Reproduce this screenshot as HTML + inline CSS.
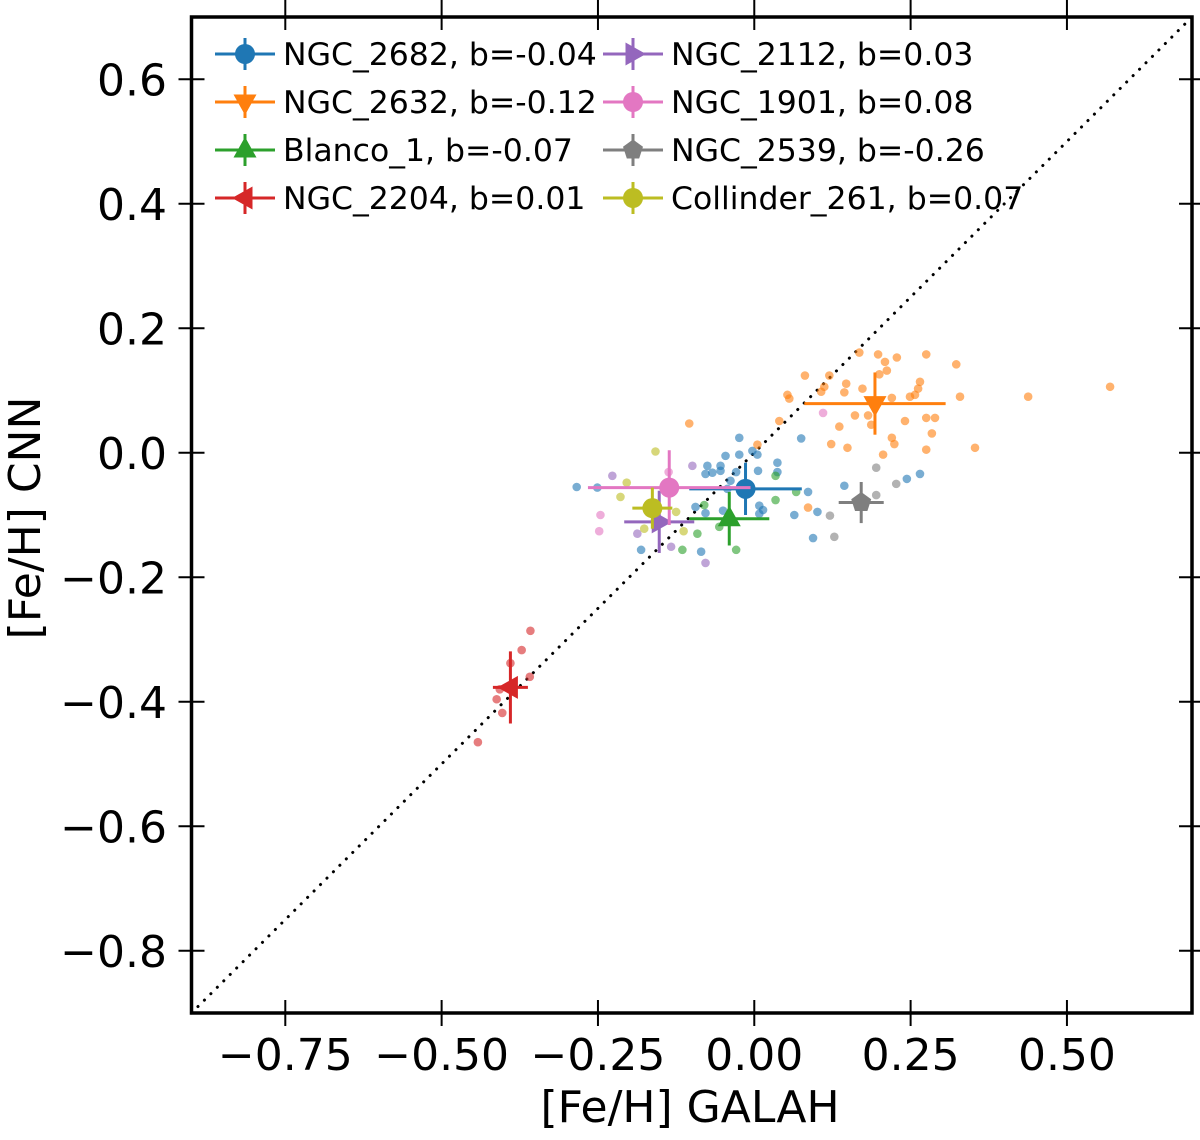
<!DOCTYPE html>
<html><head><meta charset="utf-8"><style>
body{margin:0;background:#fff;}
svg text{font-family:"DejaVu Sans","Liberation Sans",sans-serif;}
</style></head><body>
<svg id="chart" width="1200" height="1135" viewBox="0 0 1200 1135" xmlns="http://www.w3.org/2000/svg">
<rect width="1200" height="1135" fill="#fff"/>
<g id="plot"></g>
</svg>
<script>
const xTicks=[-0.75,-0.5,-0.25,0,0.25,0.5];
const xTickLabels=["−0.75","−0.50","−0.25","0.00","0.25","0.50"];
const yTicks=[0.6,0.4,0.2,0,-0.2,-0.4,-0.6,-0.8];
const yTickLabels=["0.6","0.4","0.2","0.0","−0.2","−0.4","−0.6","−0.8"];
const clusterNames=["NGC_2682, b=-0.04","NGC_2632, b=-0.12","Blanco_1, b=-0.07","NGC_2204, b=0.01","NGC_2112, b=0.03","NGC_1901, b=0.08","NGC_2539, b=-0.26","Collinder_261, b=0.07"];
const colors=["#1f77b4","#ff7f0e","#2ca02c","#d62728","#9467bd","#e377c2","#7f7f7f","#bcbd22"];
const markers=["circle","tdown","tup","tleft","tright","circle","pent","circle"];
const meanX=[-0.014,0.193,-0.04,-0.39,-0.152,-0.136,0.171,-0.163];
const meanY=[-0.058,0.079,-0.106,-0.377,-0.111,-0.056,-0.08,-0.089];
const errX=[0.09,0.113,0.064,0.028,0.056,0.13,0.036,0.032];
const errY=[0.042,0.05,0.043,0.058,0.05,0.06,0.033,0.033];
const ptsX=[
[-0.284,-0.251,-0.024,-0.046,-0.024,-0.003,0.005,-0.075,-0.054,-0.078,-0.067,-0.054,-0.038,-0.029,0.006,0.037,0.037,0.075,-0.094,-0.078,-0.05,0.008,0.014,0.008,0.064,0.101,0.144,0.094,-0.181,-0.085,-0.043,0.086,0.244,0.265],
[0.168,0.198,0.209,0.228,0.275,0.323,0.081,0.12,0.212,0.2,0.147,0.173,0.112,0.107,0.053,0.056,0.144,0.265,0.262,0.257,0.249,0.22,0.329,0.438,0.569,0.04,0.161,0.182,0.187,0.136,0.241,0.275,0.289,0.284,0.22,0.224,0.123,0.149,0.275,0.353,0.206,-0.104,0.005,0.086],
[0.034,0.067,0.034,-0.08,-0.091,-0.115,-0.029,-0.056],
[-0.358,-0.372,-0.39,-0.407,-0.412,-0.403,-0.442,-0.359],
[-0.099,-0.227,-0.187,-0.133,-0.078],
[-0.137,-0.246,-0.248,0.11],
[0.195,0.227,0.195,0.121,0.128],
[-0.158,-0.204,-0.214,-0.125,-0.113,-0.176]];
const ptsY=[
[-0.055,-0.056,0.024,-0.005,-0.003,0.003,-0.003,-0.021,-0.021,-0.034,-0.032,-0.029,-0.045,-0.031,-0.029,-0.016,-0.031,0.023,-0.087,-0.097,-0.093,-0.085,-0.092,-0.098,-0.1,-0.095,-0.053,-0.137,-0.156,-0.159,-0.058,-0.063,-0.042,-0.034],
[0.161,0.158,0.146,0.153,0.158,0.142,0.124,0.124,0.132,0.126,0.111,0.103,0.106,0.098,0.093,0.087,0.097,0.114,0.103,0.093,0.09,0.088,0.09,0.09,0.106,0.051,0.06,0.06,0.045,0.042,0.051,0.056,0.056,0.031,0.024,0.014,0.014,0.008,0.005,0.008,-0.003,0.047,0.013,-0.088],
[-0.037,-0.063,-0.076,-0.084,-0.13,-0.156,-0.156,-0.119],
[-0.286,-0.317,-0.338,-0.38,-0.396,-0.418,-0.465,-0.36],
[-0.021,-0.037,-0.13,-0.151,-0.177],
[-0.031,-0.1,-0.126,0.064],
[-0.024,-0.05,-0.068,-0.101,-0.135],
[0.002,-0.048,-0.071,-0.095,-0.126,-0.122]];

const L=191.5,R=1192,T=17,B=1013,xmin=-0.9,xmax=0.7,ymin=-0.9,ymax=0.7;
const sx=v=>L+(v-xmin)/(xmax-xmin)*(R-L);
const sy=v=>B-(v-ymin)/(ymax-ymin)*(B-T);
const NS="http://www.w3.org/2000/svg";
const g=document.getElementById('plot');
function mk(tag,attrs,parent){const e=document.createElementNS(NS,tag);for(const k in attrs)e.setAttribute(k,attrs[k]);(parent||g).appendChild(e);return e;}
function markerPath(type,cx,cy,r){
  if(type==="tdown")return `M${cx-r*1.15},${cy-r*0.75}L${cx+r*1.15},${cy-r*0.75}L${cx},${cy+r*1.3}Z`;
  if(type==="tup")return `M${cx-r*1.15},${cy+r*0.75}L${cx+r*1.15},${cy+r*0.75}L${cx},${cy-r*1.3}Z`;
  if(type==="tleft")return `M${cx+r*0.75},${cy-r*1.15}L${cx+r*0.75},${cy+r*1.15}L${cx-r*1.3},${cy}Z`;
  if(type==="tright")return `M${cx-r*0.75},${cy-r*1.15}L${cx-r*0.75},${cy+r*1.15}L${cx+r*1.3},${cy}Z`;
  if(type==="pent"){let d="";for(let i=0;i<5;i++){const a=-Math.PI/2+i*2*Math.PI/5;d+=(i?"L":"M")+(cx+r*1.05*Math.cos(a))+","+(cy+r*1.05*Math.sin(a));}return d+"Z";}
  return `M${cx-r},${cy}a${r},${r} 0 1,0 ${2*r},0a${r},${r} 0 1,0 ${-2*r},0Z`;
}
const diag=mk('line',{x1:sx(-0.9),y1:sy(-0.9),x2:sx(0.7),y2:sy(0.7),stroke:'#000','stroke-width':3,'stroke-dasharray':'0.1,9','stroke-linecap':'round'});


for(let c=0;c<8;c++){
  const grp=mk('g',{});
  
  
  for(let i=0;i<ptsX[c].length;i++){
    const p=mk('circle',{cx:sx(ptsX[c][i]),cy:sy(ptsY[c][i]),r:4.3,fill:colors[c],'fill-opacity':0.6},grp);
    
    
  }
}
for(let c=0;c<8;c++){
  const grp=mk('g',{});
  
  
  const cx=sx(meanX[c]),cy=sy(meanY[c]);
  mk('line',{x1:sx(meanX[c]-errX[c]),x2:sx(meanX[c]+errX[c]),y1:cy,y2:cy,stroke:colors[c],'stroke-width':3},grp);
  mk('line',{x1:cx,x2:cx,y1:sy(meanY[c]-errY[c]),y2:sy(meanY[c]+errY[c]),stroke:colors[c],'stroke-width':3},grp);
  mk('path',{d:markerPath(markers[c],cx,cy,10),fill:colors[c]},grp);
}
const fr=mk('rect',{x:L,y:T,width:R-L,height:B-T,fill:'none',stroke:'#000','stroke-width':3.5});


xTicks.forEach((v,i)=>{
  const x=sx(v);
  mk('line',{x1:x,x2:x,y1:T-17,y2:T+13,stroke:'#000','stroke-width':2});
  mk('line',{x1:x,x2:x,y1:B-13,y2:B+13,stroke:'#000','stroke-width':2});
  const t=mk('text',{x:x,y:1070,'font-size':44,'text-anchor':'middle',fill:'#000'});
  t.textContent=xTickLabels[i];
  
  
});
yTicks.forEach((v,i)=>{
  const y=sy(v);
  mk('line',{x1:L-13,x2:L+13,y1:y,y2:y,stroke:'#000','stroke-width':2});
  mk('line',{x1:R-13,x2:R+13,y1:y,y2:y,stroke:'#000','stroke-width':2});
  const t=mk('text',{x:167,y:y+16,'font-size':44,'text-anchor':'end',fill:'#000'});
  t.textContent=yTickLabels[i];
  
  
});
const xt=mk('text',{x:690,y:1122,'font-size':44,'text-anchor':'middle',fill:'#000'});
xt.textContent='[Fe/H] GALAH';


const yt=mk('text',{x:0,y:0,'font-size':44,'text-anchor':'middle',fill:'#000',transform:'translate(40,518) rotate(-90)'});
yt.textContent='[Fe/H] CNN';


const leg=mk('g',{});


for(let c=0;c<8;c++){
  const col=Math.floor(c/4),row=c%4;
  const x0=col?603:215,y0=54+row*48;
  const e=mk('g',{},leg);
  
  
  mk('line',{x1:x0,x2:x0+60,y1:y0,y2:y0,stroke:colors[c],'stroke-width':3},e);
  mk('line',{x1:x0+30,x2:x0+30,y1:y0-16,y2:y0+16,stroke:colors[c],'stroke-width':3},e);
  mk('path',{d:markerPath(markers[c],x0+30,y0,10),fill:colors[c]},e);
  const t=mk('text',{x:x0+68,y:y0+11,'font-size':31.5,fill:'#000'},e);
  t.textContent=clusterNames[c];
}
</script>
</body></html>
